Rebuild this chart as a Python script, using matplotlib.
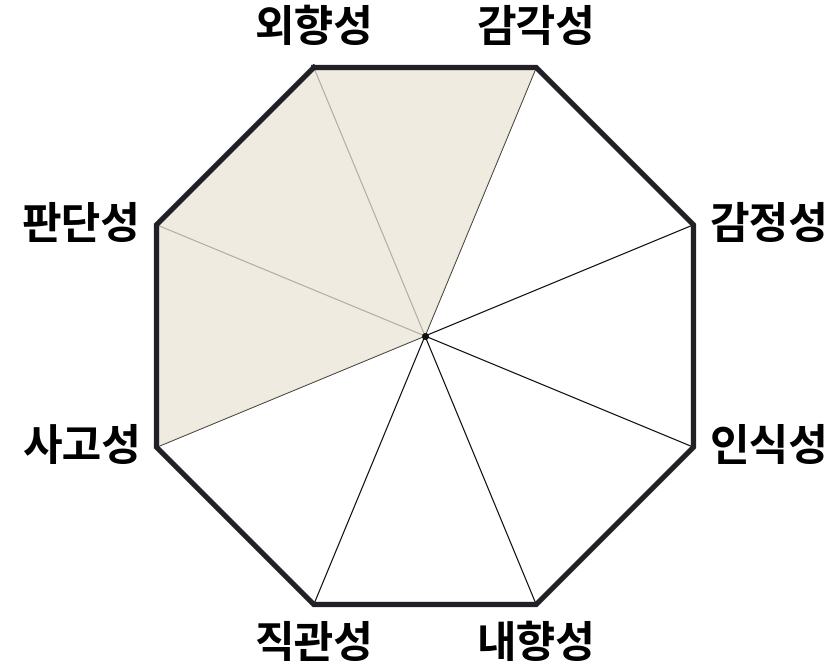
import numpy as np
import matplotlib
matplotlib.use("Agg")
import matplotlib.pyplot as plt

plt.rcParams['font.family'] = ['Noto Sans CJK KR', 'DejaVu Sans']

# 축 이름 (외향성부터 시계방향)
categories = ['외향성', '감각성', '감정성', '인식성', '내향성', '직관성', '사고성', '판단성']
angles_deg = [112.5, 67.5, 22.5, -22.5, -67.5, -112.5, -157.5, 157.5]
values = [1, 1, 0, 0, 0, 0, 1, 1]

ang = np.deg2rad(angles_deg)
vx, vy = np.cos(ang), np.sin(ang)
vals = np.array(values, dtype=float)

fig = plt.figure(figsize=(8.34, 6.71), dpi=100)
ax = fig.add_axes([0, 0, 1, 1])
ax.set_xlim(-1.4625, 1.4074)
ax.set_ylim(-1.1528, 1.1562)
ax.set_aspect('equal')
ax.axis('off')

# 중심선
for x, y in zip(vx, vy):
    ax.plot([0, x], [0, y], color='black', lw=0.8, zorder=1)

# 채워진 영역
ax.fill(vx * vals, vy * vals, color='#ebe5d6', alpha=0.75, lw=0, zorder=2)

# 팔각형 외곽선
ax.plot(np.append(vx, vx[0]), np.append(vy, vy[0]), color='#202026', lw=3.8,
        solid_joinstyle='miter', zorder=3)
ax.plot(0, 0, 'o', color='#111111', ms=4, zorder=4)

# 라벨
for lab, x, y in zip(categories, vx, vy):
    if abs(y) > 0.8:
        ax.text(x, y + np.sign(y) * 0.135, lab, ha='center', va='center',
                fontsize=31, fontweight='black', zorder=5)
    else:
        ha = 'left' if x > 0 else 'right'
        ax.text(x + np.sign(x) * 0.055, y, lab, ha=ha, va='center',
                fontsize=31, fontweight='black', zorder=5)

fig.savefig('out.png', dpi=100)
